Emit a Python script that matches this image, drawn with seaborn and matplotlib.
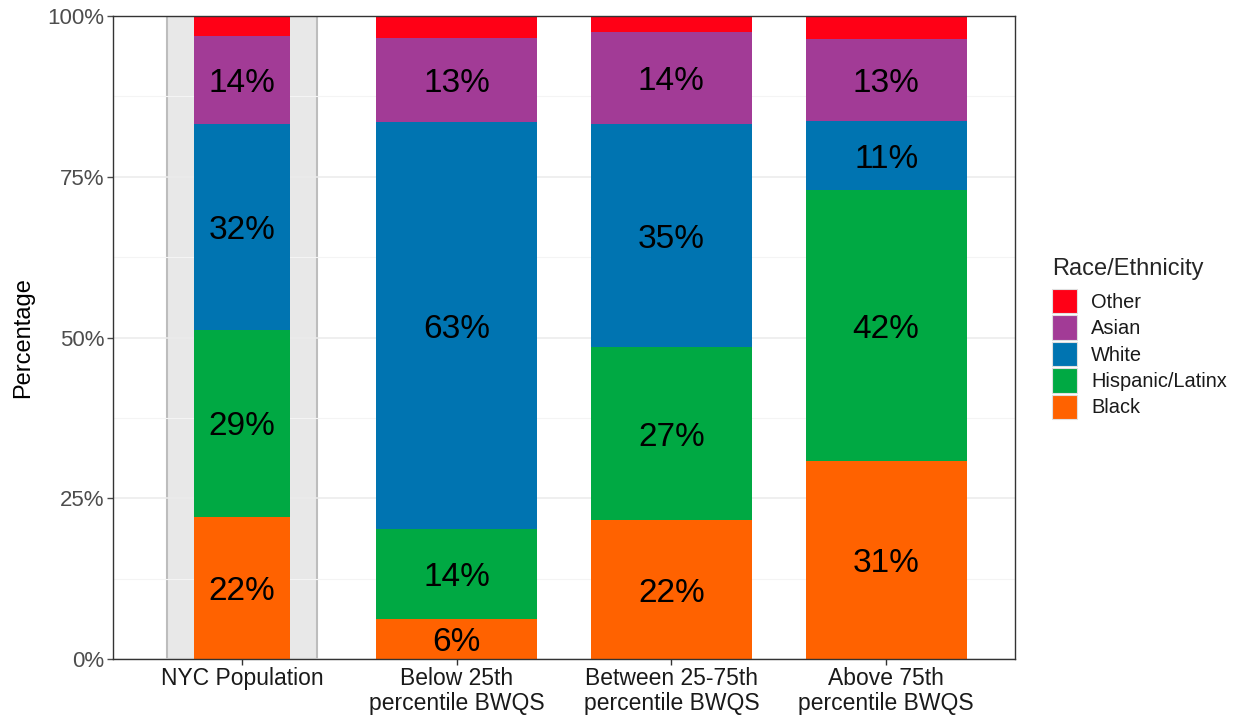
import matplotlib
matplotlib.use("Agg")
import matplotlib.pyplot as plt
import seaborn as sns
import pandas as pd
from matplotlib.patches import Patch
from matplotlib.ticker import FuncFormatter, MultipleLocator

groups = ["NYC Population", "Below 25th\npercentile BWQS",
          "Between 25-75th\npercentile BWQS", "Above 75th\npercentile BWQS"]
races = ["Black", "Hispanic/Latinx", "White", "Asian", "Other"]
black = [22.1, 6.2, 21.6, 30.8]
hispanic = [29.1, 14.0, 26.9, 42.1]
white = [32.0, 63.3, 34.7, 10.8]
asian = [13.7, 13.1, 14.3, 12.7]
other = [3.1, 3.4, 2.5, 3.6]
race_colors = ["#FF6200", "#00A943", "#0074B1", "#A23B96", "#FF0016"]

sns.set_theme(style="white")
plt.rcParams['font.family'] = ['Liberation Sans', 'DejaVu Sans']

df = pd.DataFrame({"group": groups, "Black": black, "Hispanic/Latinx": hispanic,
                   "White": white, "Asian": asian, "Other": other})
cum = df[races].cumsum(axis=1)

fig = plt.figure(figsize=(12.34, 7.19), dpi=100)
ax = fig.add_axes([113 / 1234, 60 / 719, 902 / 1234, 643 / 719])

# gray box behind the NYC bar
nyc = df[df["group"] == groups[0]]
sns.barplot(x=nyc["group"], y=[100], order=groups, width=0.7, color="#E8E8E8",
            edgecolor="#BDBDBD", linewidth=1.5, saturation=1, zorder=0.3, ax=ax)

# stacked bars, drawn from the top segment down
for race, col in reversed(list(zip(races, race_colors))):
    sns.barplot(x=df["group"][:1], y=cum[race][:1], order=groups, width=0.45,
                color=col, saturation=1, linewidth=0, errorbar=None, zorder=2, ax=ax)
    sns.barplot(x=df["group"][1:], y=cum[race][1:], order=groups, width=0.75,
                color=col, saturation=1, linewidth=0, errorbar=None, zorder=2, ax=ax)

# percentage labels in the middle of each segment
for i in range(len(groups)):
    for race in races[:-1]:
        val = df[race][i]
        mid = cum[race][i] - val / 2
        ax.text(i, mid, f"{round(val):.0f}%", ha="center", va="center_baseline",
                fontsize=24, color="black", zorder=3)

ax.set_xlim(-0.6, len(groups) - 0.4)
ax.set_ylim(0, 100)
ax.yaxis.set_major_locator(MultipleLocator(25))
ax.yaxis.set_minor_locator(MultipleLocator(12.5))
ax.yaxis.set_major_formatter(FuncFormatter(lambda v, p: f"{v:.0f}%"))
ax.set_axisbelow(True)
ax.grid(axis="y", which="major", color="#EBEBEB", linewidth=1.1, zorder=0.5)
ax.grid(axis="y", which="minor", color="#F4F4F4", linewidth=0.8, zorder=0.5)
ax.grid(axis="x", which="major", visible=False)
ax.set_xticks(range(len(groups)))
ax.set_xticklabels(groups, fontsize=16.5, color="#1A1A1A", linespacing=1.1)
ax.tick_params(axis="y", labelsize=16, labelcolor="#4D4D4D", colors="#4D4D4D",
               length=4, width=1, left=True, pad=2)
ax.tick_params(axis="x", labelsize=16.5, colors="#333333", labelcolor="#1A1A1A",
               length=4, width=1, bottom=True, pad=2)
ax.tick_params(which="minor", left=False)
for s in ax.spines.values():
    s.set_color("#333333")
    s.set_linewidth(1)
ax.set_xlabel("")
ax.set_ylabel("Percentage", fontsize=17, color="black", labelpad=10)

handles = [Patch(facecolor=c, edgecolor="#E0E0E0", linewidth=0.8)
           for c in reversed(race_colors)]
leg = fig.legend(handles, list(reversed(races)), title="Race/Ethnicity",
                 loc="upper left", bbox_to_anchor=(1034 / 1234, 1 - 240 / 719),
                 frameon=False, fontsize=14.4, title_fontsize=17,
                 handlelength=1.25, handleheight=1.5, labelspacing=0.1,
                 handletextpad=0.7, alignment="left", labelcolor="#1A1A1A")
leg._legend_box.sep = 6.5  # extra gap between title and keys

fig.savefig("out.png", dpi=100)
